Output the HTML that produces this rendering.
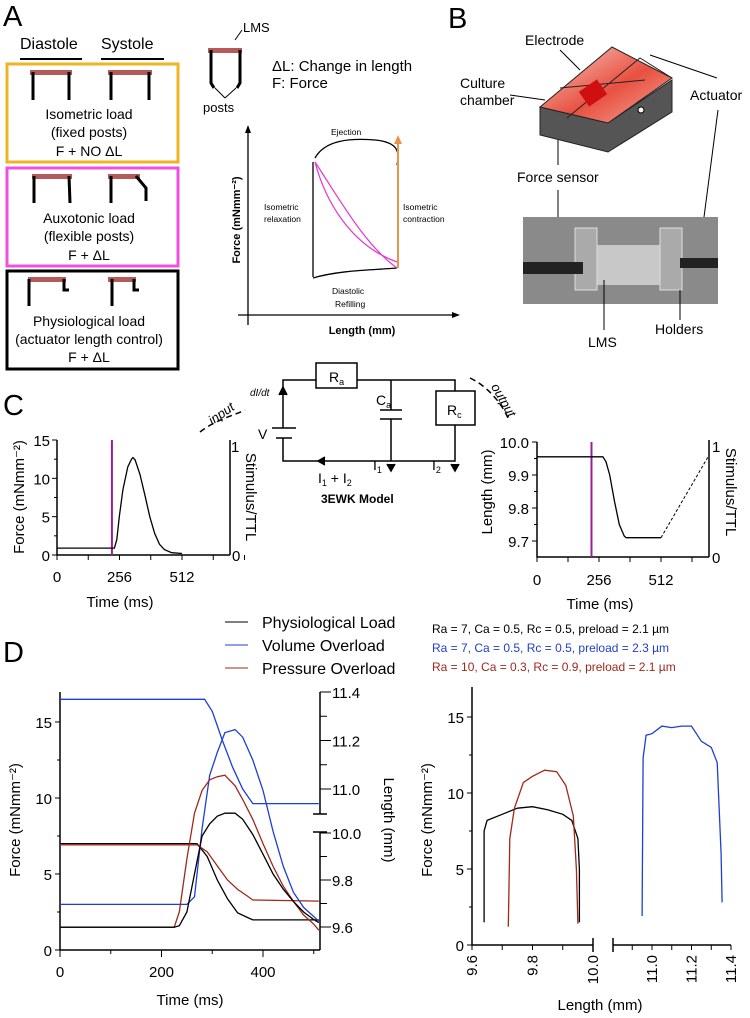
<!DOCTYPE html>
<html><head><meta charset="utf-8"><style>
body{margin:0;background:#fff}
svg{display:block;font-family:"Liberation Sans",sans-serif}
</style></head><body>
<svg id="fig" width="750" height="1018" viewBox="0 0 750 1018">
<text x="3" y="26" font-size="29">A</text>
<text x="448" y="28" font-size="29">B</text>
<text x="3" y="415" font-size="29">C</text>
<text x="3" y="662" font-size="29">D</text>

<!-- Panel A -->
<g>
<text x="20" y="49" font-size="16">Diastole</text>
<text x="101" y="49" font-size="16">Systole</text>
<line x1="20" y1="59" x2="82" y2="59" stroke="#000" stroke-width="2"/>
<line x1="101" y1="59" x2="164" y2="59" stroke="#000" stroke-width="2"/>
<rect x="7" y="64" width="171" height="98" fill="none" stroke="#f0b323" stroke-width="3"/>
<rect x="7" y="168" width="171" height="98" fill="none" stroke="#f050e0" stroke-width="3"/>
<rect x="7" y="271" width="171" height="98" fill="none" stroke="#000" stroke-width="3"/>
<g fill="#b55a5a">
<rect x="30" y="70" width="42" height="5"/><rect x="108" y="70" width="44" height="5"/>
<rect x="32" y="174" width="40" height="5"/><rect x="108" y="174" width="32" height="5"/>
<rect x="28" y="277" width="38" height="5"/><rect x="108" y="277" width="28" height="5"/>
</g>
<g stroke="#000" stroke-width="3" fill="none">
<path d="M33 72V100M69 72V100M111 72V100M149 72V100"/>
<path d="M34 176V203M69 176L70 203M111 176V203M136 176L146 188V201"/>
<path d="M29 279V306M64 279V290H69M112 279V306M134 279V290H139"/>
</g>
<g font-size="14" text-anchor="middle">
<text x="89" y="119">Isometric load</text><text x="89" y="137">(fixed posts)</text><text x="89" y="156">F + NO ΔL</text>
<text x="89" y="223">Auxotonic load</text><text x="89" y="241">(flexible posts)</text><text x="89" y="260">F + ΔL</text>
<text x="89" y="326">Physiological load</text><text x="89" y="344">(actuator length control)</text><text x="89" y="362">F + ΔL</text>
</g>
</g>

<g>
<rect x="208" y="48" width="34" height="5" fill="#b55a5a"/>
<path d="M211 50V83L214 88M240 50V83L237 88" stroke="#000" stroke-width="3" fill="none"/>
<text x="243" y="32" font-size="13">LMS</text><path d="M242 30L235 40" stroke="#000"/>
<text x="203" y="112" font-size="13">posts</text>
<path d="M225 98L215 88M225 98L236 88" stroke="#000"/>
<text x="272" y="71" font-size="15">ΔL: Change in length</text>
<text x="272" y="88" font-size="15">F: Force</text>
</g>

<g>
<path d="M248 127V325M238 315H458" stroke="#000" stroke-width="1.3" fill="none"/>
<path d="M245 133L248 125L251 133M452 312L460 315L452 318" fill="#000"/>
<text x="362" y="334" font-size="11" font-weight="bold" text-anchor="middle">Length (mm)</text>
<text transform="translate(240,220) rotate(-90)" font-size="11" font-weight="bold" text-anchor="middle">Force (mNmm⁻²)</text>
<path d="M315 158C325 140 350 138 375 140C398 142 400 152 397 165" fill="none" stroke="#000" stroke-width="1.3"/>
<path d="M313 162V277" stroke="#000" stroke-width="1.3"/>
<path d="M313 278C340 270 375 270 397 268" fill="none" stroke="#000" stroke-width="1.3"/>
<path d="M315 162C340 200 365 245 397 268M315 162C325 200 350 245 397 262" fill="none" stroke="#e040d0" stroke-width="1.3"/>
<path d="M398 268V140" stroke="#e8944c" stroke-width="2"/>
<path d="M394 144L398 135L402 144" fill="#e8944c"/>
<g font-size="8.5"><text x="331" y="135">Ejection</text>
<text x="264" y="210">Isometric</text><text x="264" y="222">relaxation</text>
<text x="403" y="210">Isometric</text><text x="403" y="222">contraction</text>
<text x="332" y="294">Diastolic</text><text x="335" y="307">Refilling</text></g>
</g>

<!-- Panel B -->
<g>
<defs><linearGradient id="rg" x1="0" y1="0" x2="1" y2="1"><stop offset="0" stop-color="#f7d0c8"/><stop offset="0.55" stop-color="#e85040"/><stop offset="1" stop-color="#f5a898"/></linearGradient></defs>
<path d="M540 107L540 135L608 152L672 112L672 80L608 123Z" fill="#555" stroke="#222"/>
<path d="M540 107L612 47L672 78L608 123Z" fill="url(#rg)" stroke="#222"/>
<path d="M567 118L640 58L672 78M560 88L645 80" stroke="#222" fill="none"/>
<rect x="582" y="84" width="22" height="18" fill="#d01010" transform="rotate(-35 593 93)"/>
<circle cx="641" cy="110" r="3" fill="#fff" stroke="#000"/>
<text x="525" y="45" font-size="14">Electrode</text>
<text x="460" y="88" font-size="14">Culture</text><text x="460" y="105" font-size="14">chamber</text>
<text x="690" y="100" font-size="14">Actuator</text>
<text x="517" y="182" font-size="14">Force sensor</text>
<path d="M560 50L580 70M510 95L545 100M717 78L650 55M718 110L701 240M558 190V245M558 165V140" stroke="#000" fill="none"/>
<rect x="523" y="217" width="195" height="87" fill="#8a8a8a"/>
<rect x="580" y="245" width="80" height="40" fill="#c8c8c8"/>
<rect x="575" y="228" width="22" height="62" fill="#aaa" stroke="#ddd"/>
<rect x="660" y="228" width="22" height="62" fill="#aaa" stroke="#ddd"/>
<rect x="523" y="262" width="60" height="12" fill="#222"/>
<rect x="680" y="258" width="38" height="10" fill="#222"/>
<text x="588" y="347" font-size="14">LMS</text>
<text x="655" y="334" font-size="14">Holders</text>
<path d="M604 330V280M680 320V290" stroke="#000"/>
</g>

<!-- Circuit -->
<g stroke="#000" fill="none" stroke-width="1.5">
<path d="M283 428V380H316M357 380H455V391M455 425V461H283V438M272 428H296M276 438H292M391 380V410M380 410H402M380 419H402M391 419V461"/>
<rect x="316" y="363" width="41" height="25"/>
<rect x="436" y="391" width="39" height="34"/>
<path d="M279 395L283 387L287 395M387 464L391 471L395 464M451 464L455 471L459 464M325 457L318 461L325 465" fill="#000"/>
<path d="M200 432C215 420 235 415 245 410" stroke-dasharray="6 4"/>
<path d="M470 378C485 385 500 400 508 418" stroke-dasharray="6 4"/>
</g>
<g font-size="14">
<text x="329" y="382">R<tspan font-size="9" dy="3">a</tspan></text>
<text x="447" y="415">R<tspan font-size="9" dy="3">c</tspan></text>
<text x="376" y="405">C<tspan font-size="9" dy="3">a</tspan></text>
<text x="258" y="439">V</text>
<text x="373" y="470">I<tspan font-size="9" dy="3">1</tspan></text>
<text x="432" y="470">I<tspan font-size="9" dy="3">2</tspan></text>
<text x="318" y="483">I<tspan font-size="9" dy="3">1</tspan><tspan dy="-3"> + I</tspan><tspan font-size="9" dy="3">2</tspan></text>
<text x="321" y="503" font-size="12" font-weight="bold">3EWK Model</text>
<text x="250" y="396" font-size="10" font-style="italic">dI/dt</text>
<text x="205" y="418" font-size="13" font-style="italic" transform="rotate(-35 220 410)">input</text>
<text x="490" y="392" font-size="13" font-style="italic" transform="rotate(60 495 390)">output</text>
</g>

<g id="cL"></g>
<g id="cR"></g>

<g font-size="16">
<line x1="225" y1="622" x2="248" y2="622" stroke="#000"/>
<text x="262" y="628">Physiological Load</text>
<line x1="225" y1="645" x2="248" y2="645" stroke="#1f3fd0"/>
<text x="262" y="651">Volume Overload</text>
<line x1="225" y1="668" x2="248" y2="668" stroke="#a0281c"/>
<text x="262" y="674">Pressure Overload</text>
</g>
<g font-size="12">
<text x="432" y="633" fill="#000">Ra = 7, Ca = 0.5, Rc = 0.5, preload = 2.1 µm</text>
<text x="432" y="652" fill="#1f3fd0">Ra = 7, Ca = 0.5, Rc = 0.5, preload = 2.3 µm</text>
<text x="432" y="671" fill="#a0281c">Ra = 10, Ca = 0.3, Rc = 0.9, preload = 2.1 µm</text>
</g>
<g id="dL"></g>
<g id="dR"></g>
</svg>
<script>
// ---- Panel C data ----
const cForceT = [0,235,245,255,270,290,305,311,320,340,360,380,400,420,440,470,512];
const cForceV = [0.9,0.9,2,5,8.5,11.5,12.5,12.7,12.4,10.5,7.8,5,2.8,1.4,0.7,0.3,0.2];
const cLenT = [0,272,285,300,320,340,360,368,512];
const cLenV = [9.955,9.955,9.94,9.9,9.82,9.75,9.715,9.71,9.71];
const cLenDashT = [512,710];
const cLenDashV = [9.71,9.96];
const cStim = 225;
// ---- Panel D data ----
const dT = [0,225,235,250,265,280,295,310,325,345,360,380,400,420,440,460,480,500,510];
const forcePhys = [1.5,1.5,1.6,2.5,5,7.5,8.3,8.8,9,9,8.6,7.6,6.3,5,4,3.2,2.5,2,1.8];
const forcePress = [1.5,1.5,2.5,6,9,10.5,11.2,11.4,11.5,10.8,9.9,8.6,7,5.5,4.2,3.2,2.3,1.7,1.3];
const forceVol = [3,3,3,3,3.5,8,11.5,13,14.3,14.5,14,12.5,10.5,7.8,5.5,3.8,2.8,2.2,1.9];
const lenT = [0,270,290,310,330,350,370,380,510];
const lenPhys = [9.955,9.955,9.9,9.8,9.72,9.66,9.64,9.63,9.63];
const lenPress = [9.95,9.95,9.92,9.86,9.8,9.76,9.73,9.715,9.71];
const lenVolT = [0,285,300,320,340,360,380,510];
const lenVol = [11.37,11.37,11.32,11.2,11.09,11.0,10.94,10.94];
const loopPhysL = [9.64,9.64,9.65,9.70,9.75,9.80,9.85,9.90,9.93,9.95,9.955,9.955];
const loopPhysF = [1.5,7.5,8.2,8.6,9.0,9.1,8.9,8.6,8.2,7,5,1.5];
const loopPressL = [9.72,9.725,9.74,9.77,9.80,9.84,9.88,9.91,9.935,9.945,9.95];
const loopPressF = [1.2,7,9,10.7,11.1,11.5,11.4,10.5,8.5,5,1.4];
const loopVolL = [10.95,10.955,10.97,11.0,11.05,11.1,11.15,11.2,11.25,11.3,11.33,11.35,11.355];
const loopVolF = [1.9,12.3,13.8,13.9,14.4,14.3,14.4,14.4,13.4,13.0,12,6,2.8];

const NS="http://www.w3.org/2000/svg";
function mk(p,tag,a){const e=document.createElementNS(NS,tag);for(const k in a)e.setAttribute(k,a[k]);p.appendChild(e);return e;}
function lin(d0,d1,r0,r1){return v=>r0+(v-d0)*(r1-r0)/(d1-d0);}
function txt(p,x,y,s,o){const e=mk(p,'text',Object.assign({x:x,y:y,'font-size':14},o||{}));e.textContent=s;return e;}
function path(p,xs,ys,fx,fy,col,extra){let d='';xs.forEach((v,i)=>{d+=(i?'L':'M')+fx(v).toFixed(1)+' '+fy(ys[i]).toFixed(1);});return mk(p,'path',Object.assign({d:d,fill:'none',stroke:col,'stroke-width':1.3},extra||{}));}

// Panel C left
(function(){const g=document.getElementById('cL');
const x=lin(0,512,57,182),y=lin(0,15,555,440);
mk(g,'path',{d:'M57 440V555H230M230 555V440',stroke:'#000',fill:'none','stroke-width':1.5});
[0,5,10,15].forEach(v=>{mk(g,'line',{x1:52,x2:57,y1:y(v),y2:y(v),stroke:'#000'});txt(g,50,y(v)+6,String(v),{'text-anchor':'end','font-size':15});});
[2.5,7.5,12.5].forEach(v=>mk(g,'line',{x1:54,x2:57,y1:y(v),y2:y(v),stroke:'#000'}));
[0,128,256,384,512,640,768].forEach(v=>mk(g,'line',{x1:x(v),x2:x(v),y1:555,y2:560,stroke:'#000'}));
[0,256,512].forEach(v=>txt(g,x(v),582,String(v),{'text-anchor':'middle','font-size':15}));
txt(g,231,452,'1',{'font-size':15});txt(g,232,561,'0',{'font-size':15});
txt(g,120,607,'Time (ms)',{'text-anchor':'middle','font-size':15});
txt(g,0,0,'Force (mNmm⁻²)',{transform:'translate(24,497) rotate(-90)','text-anchor':'middle','font-size':15});
txt(g,0,0,'Stimulus/TTL',{transform:'translate(246,497) rotate(90)','text-anchor':'middle','font-size':15});
const s=mk(g,'line',{x1:x(cStim),x2:x(cStim),y1:440,y2:555,stroke:'#9b1f9b','stroke-width':2});


const p=path(g,cForceT,cForceV,x,y,'#000');


})();
// Panel C right
(function(){const g=document.getElementById('cR');
const x=lin(0,512,537,661),y=lin(9.7,10.0,541,442);
mk(g,'path',{d:'M537 442V557H709M709 557V440',stroke:'#000',fill:'none','stroke-width':1.5});
[9.7,9.8,9.9,10.0].forEach(v=>{mk(g,'line',{x1:532,x2:537,y1:y(v),y2:y(v),stroke:'#000'});txt(g,529,y(v)+6,v.toFixed(1),{'text-anchor':'end','font-size':15});});
[9.75,9.85,9.95].forEach(v=>mk(g,'line',{x1:534,x2:537,y1:y(v),y2:y(v),stroke:'#000'}));
[0,128,256,384,512,640].forEach(v=>mk(g,'line',{x1:x(v),x2:x(v),y1:557,y2:562,stroke:'#000'}));
[0,256,512].forEach(v=>txt(g,x(v),585,String(v),{'text-anchor':'middle','font-size':15}));
txt(g,712,452,'1',{'font-size':15});txt(g,712,563,'0',{'font-size':15});
txt(g,600,609,'Time (ms)',{'text-anchor':'middle','font-size':15});
txt(g,0,0,'Length (mm)',{transform:'translate(492,492) rotate(-90)','text-anchor':'middle','font-size':15});
txt(g,0,0,'Stimulus/TTL',{transform:'translate(726,492) rotate(90)','text-anchor':'middle','font-size':15});
const s=mk(g,'line',{x1:x(cStim),x2:x(cStim),y1:442,y2:557,stroke:'#9b1f9b','stroke-width':2});


const p=path(g,cLenT,cLenV,x,y,'#000');


const p2=path(g,cLenDashT,cLenDashV,x,y,'#000',{'stroke-dasharray':'3 2','stroke-width':1});


})();
// Panel D left
(function(){const g=document.getElementById('dL');
const x=lin(0,400,60,263),y=lin(0,15,950,722);
const yLo=lin(9.6,10.0,927,833),yHi=lin(11.0,11.4,789,692);
mk(g,'path',{d:'M60 692V950H320',stroke:'#000',fill:'none','stroke-width':1.5});
mk(g,'path',{d:'M320 692V814M320 832V950',stroke:'#000',fill:'none','stroke-width':1.5});
[0,5,10,15].forEach(v=>{mk(g,'line',{x1:55,x2:60,y1:y(v),y2:y(v),stroke:'#000'});txt(g,52,y(v)+6,String(v),{'text-anchor':'end','font-size':15});});
[2.5,7.5,12.5].forEach(v=>mk(g,'line',{x1:57,x2:60,y1:y(v),y2:y(v),stroke:'#000'}));
[0,100,200,300,400,500].forEach(v=>mk(g,'line',{x1:x(v),x2:x(v),y1:950,y2:v%200?954:957,stroke:'#000'}));
[0,200,400].forEach(v=>txt(g,x(v),977,String(v),{'text-anchor':'middle','font-size':15}));
[9.6,9.7,9.8,9.9,10.0].forEach(v=>{mk(g,'line',{x1:320,x2:(Math.round(v*10)%2?327:331),y1:yLo(v),y2:yLo(v),stroke:'#000'});});
[9.6,9.8,10.0].forEach(v=>txt(g,332,yLo(v)+6,v.toFixed(1),{'font-size':15}));
[11.0,11.1,11.2,11.3,11.4].forEach(v=>{mk(g,'line',{x1:320,x2:(Math.round(v*10)%2?327:331),y1:yHi(v),y2:yHi(v),stroke:'#000'});});
[11.0,11.2,11.4].forEach(v=>txt(g,332,yHi(v)+6,v.toFixed(1),{'font-size':15}));
mk(g,'line',{x1:313,x2:327,y1:814,y2:814,stroke:'#000','stroke-width':1.5});
mk(g,'line',{x1:313,x2:327,y1:832,y2:832,stroke:'#000','stroke-width':1.5});
txt(g,190,1005,'Time (ms)',{'text-anchor':'middle','font-size':15});
txt(g,0,0,'Force (mNmm⁻²)',{transform:'translate(20,820) rotate(-90)','text-anchor':'middle','font-size':15});
txt(g,0,0,'Length (mm)',{transform:'translate(384,820) rotate(90)','text-anchor':'middle','font-size':15});
const series=[[lenT,lenPhys,yLo,'#000','length-physiological'],[lenT,lenPress,yLo,'#a0281c','length-pressure'],[lenVolT,lenVol,yHi,'#1f3fd0','length-volume'],
[dT,forceVol,y,'#1f3fd0','force-volume'],[dT,forcePress,y,'#a0281c','force-pressure'],[dT,forcePhys,y,'#000','force-physiological']];
series.forEach(s=>{const p=path(g,s[0],s[1],x,s[2],s[3]);

});
})();
// Panel D right
(function(){const g=document.getElementById('dR');
const xLo=lin(9.6,10.0,472,593),xHi=lin(11.0,11.4,652,731),y=lin(0,15,945,717);
mk(g,'path',{d:'M472 687V945H593M613 945H731',stroke:'#000',fill:'none','stroke-width':1.5});
mk(g,'line',{x1:593,x2:593,y1:938,y2:952,stroke:'#000','stroke-width':1.5});
mk(g,'line',{x1:613,x2:613,y1:938,y2:952,stroke:'#000','stroke-width':1.5});
[0,5,10,15].forEach(v=>{mk(g,'line',{x1:467,x2:472,y1:y(v),y2:y(v),stroke:'#000'});txt(g,464,y(v)+6,String(v),{'text-anchor':'end','font-size':15});});
[2.5,7.5,12.5].forEach(v=>mk(g,'line',{x1:469,x2:472,y1:y(v),y2:y(v),stroke:'#000'}));
[9.6,9.7,9.8,9.9,10.0].forEach(v=>mk(g,'line',{x1:xLo(v),x2:xLo(v),y1:945,y2:950,stroke:'#000'}));
[9.6,9.8,10.0].forEach(v=>txt(g,0,0,v.toFixed(1),{transform:`translate(${xLo(v)+5},955) rotate(-90)`,'text-anchor':'end','font-size':15}));
[10.9,11.0,11.1,11.2,11.3,11.4].forEach(v=>mk(g,'line',{x1:xHi(v),x2:xHi(v),y1:945,y2:950,stroke:'#000'}));
[11.0,11.2,11.4].forEach(v=>txt(g,0,0,v.toFixed(1),{transform:`translate(${xHi(v)+5},955) rotate(-90)`,'text-anchor':'end','font-size':15}));
txt(g,600,1010,'Length (mm)',{'text-anchor':'middle','font-size':15});
txt(g,0,0,'Force (mNmm⁻²)',{transform:'translate(432,820) rotate(-90)','text-anchor':'middle','font-size':15});
const a=path(g,loopPhysL,loopPhysF,xLo,y,'#000');


const b=path(g,loopPressL,loopPressF,xLo,y,'#a0281c');


const c=path(g,loopVolL,loopVolF,xHi,y,'#1f3fd0');


})();
</script>
</body></html>
